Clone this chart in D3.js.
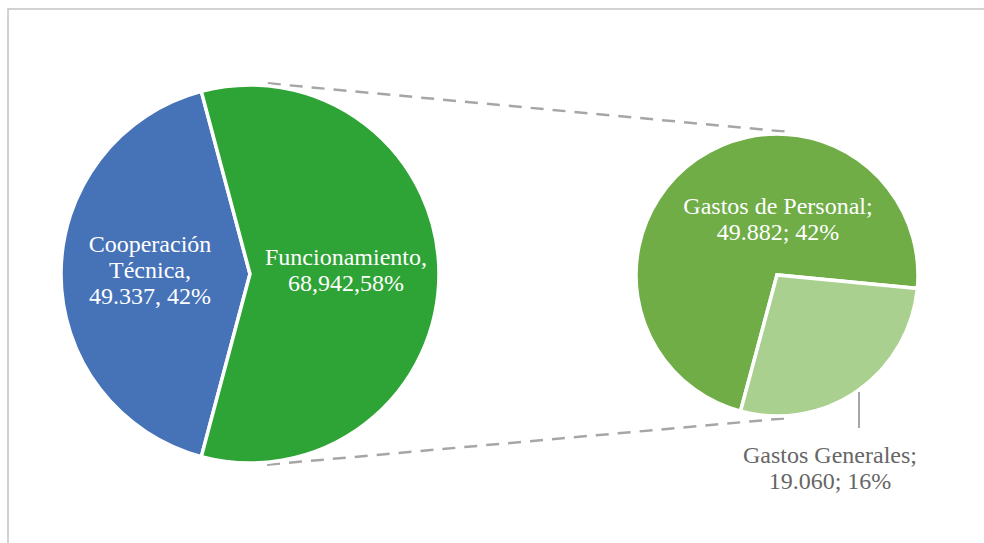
<!DOCTYPE html>
<html>
<head>
<meta charset="utf-8">
<script src="https://cdn.jsdelivr.net/npm/d3@7"></script>
<style>
  html, body { margin: 0; padding: 0; background: #ffffff; }
  svg { display: block; }
</style>
</head>
<body>
<svg id="chart" width="984" height="543"></svg>
<script>
// Main pie: budget split
const mainLabels = ["Cooperación Técnica", "Funcionamiento"];
const mainValues = [49.337, 68.942];
const mainText = [["Cooperación", "Técnica,", "49.337, 42%"], ["Funcionamiento,", "68,942,58%"]];

// Breakdown of "Funcionamiento"
const subLabels = ["Gastos de Personal", "Gastos Generales"];
const subValues = [49.882, 19.060];
const subText = [["Gastos de Personal;", "49.882; 42%"], ["Gastos Generales;", "19.060; 16%"]];

const W = 984, H = 543;
const FONT = "'Liberation Serif', 'Times New Roman', 'DejaVu Serif', serif";
const svg = d3.select("#chart");

// chart frame
svg.append("rect")
  .attr("x", 8).attr("y", 9)
  .attr("width", W + 20).attr("height", H + 20)
  .attr("fill", "none").attr("stroke", "#c3c3c3").attr("stroke-width", 1.5);

const main = { cx: 250, cy: 274, r: 189 };
const sub  = { cx: 777, cy: 275, r: 141 };
const rad = d => d * Math.PI / 180;

const mainColors = d3.scaleOrdinal().domain(mainLabels).range(["#4672b8", "#2ea336"]);
const subColors  = d3.scaleOrdinal().domain(subLabels).range(["#70ad47", "#a9d08e"]);

// The split-off slice faces the secondary pie (centered at 90°)
const otherSpan = 360 * mainValues[1] / d3.sum(mainValues);
const mainStart = 90 + otherSpan / 2;
const mainPie = d3.pie().sort(null).value(d => d.v)
  .startAngle(rad(mainStart)).endAngle(rad(mainStart + 360));
const subStart = 195;
const subPie = d3.pie().sort(null).value(d => d.v)
  .startAngle(rad(subStart)).endAngle(rad(subStart + 360));

// connector lines: outer tangents between both circles, kept just off the rims
(function drawConnectors() {
  const gap = 2.5;
  const r1 = main.r + gap, r2 = sub.r + gap;
  const dx = sub.cx - main.cx, dy = sub.cy - main.cy;
  const d = Math.hypot(dx, dy);
  const ux = dx / d, uy = dy / d;
  const c = (r1 - r2) / d, s = Math.sqrt(1 - c * c);
  const px = -uy, py = ux;
  [-1, 1].forEach(sign => {
    const n = [c * ux + sign * s * px, c * uy + sign * s * py];
    const p1 = [main.cx + r1 * n[0], main.cy + r1 * n[1]];
    const p2 = [sub.cx + r2 * n[0], sub.cy + r2 * n[1]];
    svg.append("line")
      .attr("x1", p1[0]).attr("y1", p1[1])
      .attr("x2", p2[0]).attr("y2", p2[1])
      .attr("stroke", "#a6a6a6").attr("stroke-width", 2.5)
      .attr("stroke-dasharray", "13 9");
  });
})();

function drawPie(cfg, labels, values, pie, color) {
  const arc = d3.arc().innerRadius(0).outerRadius(cfg.r);
  const g = svg.append("g").attr("transform", `translate(${cfg.cx},${cfg.cy})`);
  g.selectAll("path")
    .data(pie(values.map((v, i) => ({ v, name: labels[i] }))))
    .join("path")
    .attr("d", arc)
    .attr("fill", d => color(d.data.name))
    .attr("stroke", "#ffffff").attr("stroke-width", 3.5)
    .attr("stroke-linejoin", "miter");
}

drawPie(main, mainLabels, mainValues, mainPie, mainColors);
drawPie(sub, subLabels, subValues, subPie, subColors);

// data labels
const lineH = 26;
function label(x, y, lines, fill) {
  const t = svg.append("text")
    .attr("text-anchor", "middle")
    .attr("font-family", FONT)
    .style("font-family", FONT)
    .attr("font-size", 24)
    .attr("fill", fill);
  lines.forEach((s, i) => {
    t.append("tspan").attr("x", x).attr("y", y + i * lineH).text(s);
  });
}
label(main.cx - 100, 252, mainText[0], "#ffffff");
label(main.cx + 96, 265, mainText[1], "#ffffff");
label(sub.cx + 1, 214, subText[0], "#ffffff");

// outside label with leader line
svg.append("line")
  .attr("x1", 859).attr("y1", 392).attr("x2", 859).attr("y2", 428)
  .attr("stroke", "#a6a6a6").attr("stroke-width", 2);
label(830, 463, subText[1], "#666666");
</script>
</body>
</html>
